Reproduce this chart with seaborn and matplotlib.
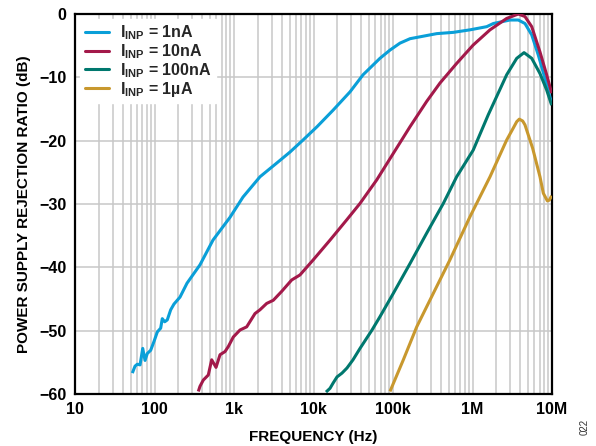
import numpy as np
import pandas as pd
import matplotlib
matplotlib.use("Agg")
import matplotlib.pyplot as plt
import seaborn as sns

# PSRR versus frequency for four input currents
freq_1nA = [52.6, 56.9, 60.8, 65.8, 71.1, 76.0, 81.2, 89.5, 98.6, 108.5, 119.6, 125.3, 134.3,
            144.8, 159.9, 175.8, 209.3, 256.6, 373.6, 544, 891, 1298, 2123, 3475, 5060, 7380,
            11070, 17590, 28770, 41980, 68500, 91600, 122400, 163700, 218800, 354800, 573000,
            930000, 1.51e6, 1.83e6, 2.96e6, 3.77e6, 4.57e6, 5.56e6, 6.73e6, 8.17e6, 9.9e6]
psrr_1nA = [-56.7, -55.6, -55.3, -55.4, -52.8, -54.7, -53.6, -53.1, -51.7, -50.2, -49.6, -48.1,
            -48.6, -48.3, -46.7, -45.8, -44.7, -42.5, -39.6, -35.7, -32.1, -28.9, -25.7, -23.5,
            -21.8, -19.9, -17.8, -15.2, -12.3, -9.6, -7.0, -5.7, -4.6, -3.9, -3.6, -3.1, -2.9,
            -2.5, -2.0, -1.5, -0.95, -0.95, -1.5, -3.3, -6.5, -10.2, -14.1]

freq_10nA = [355.6, 373, 411, 475, 524, 594, 667, 771, 849, 980, 1189, 1444, 1837, 2123, 2577,
             3121, 3978, 5313, 6761, 9955, 16140, 26180, 38500, 62370, 101000, 163600, 265300,
             390000, 632000, 1.02e6, 1.66e6, 2.69e6, 3.77e6, 4.57e6, 5.56e6, 7.06e6, 8.57e6,
             9.9e6]
psrr_10nA = [-59.6, -58.8, -57.8, -57.0, -54.6, -55.8, -53.8, -53.3, -52.5, -51.0, -49.9, -49.4,
             -47.3, -46.7, -45.7, -45.2, -43.8, -42.0, -41.2, -38.8, -35.7, -32.5, -29.9, -26.2,
             -22.0, -17.8, -13.8, -10.9, -7.8, -4.9, -2.5, -0.7, 0.0, -0.4, -2.0, -6.0, -9.6,
             -12.5]

freq_100nA = [14360, 16140, 17590, 19770, 22830, 26360, 31400, 38470, 54430, 68500, 101000,
              163700, 265300, 430000, 632000, 1.02e6, 1.58e6, 2.69e6, 3.6e6, 4.45e6, 5.56e6,
              7.06e6, 8.57e6, 9.9e6]
psrr_100nA = [-59.7, -59.1, -58.3, -57.3, -56.7, -55.9, -54.6, -52.8, -49.9, -47.8, -44.1, -39.4,
              -34.6, -29.9, -25.7, -21.5, -15.9, -9.6, -7.0, -6.1, -7.0, -9.4, -12.0, -14.4]

freq_1uA = [91600, 134900, 198700, 321600, 521000, 930000, 1.66e6, 2.69e6, 3.26e6, 3.6e6,
            3.88e6, 4.28e6, 4.57e6, 5.71e6, 7.06e6, 7.78e6, 8.73e6, 9.25e6, 9.9e6]
psrr_1uA = [-59.6, -54.6, -49.4, -44.1, -38.8, -32.0, -25.7, -19.9, -18.0, -17.0, -16.6, -16.9,
            -17.5, -21.2, -25.7, -28.3, -29.5, -29.4, -28.7]

series_names = ["1nA", "10nA", "100nA", "1µA"]
series_colors = ["#0a9fd8", "#a3194a", "#00786e", "#c8982e"]

xtick_vals = [10, 100, 1e3, 1e4, 1e5, 1e6, 1e7]
xtick_text = ["10", "100", "1k", "10k", "100k", "1M", "10M"]
ytick_vals = [0, -10, -20, -30, -40, -50, -60]

frames = []
for name, f, p in zip(series_names,
                      [freq_1nA, freq_10nA, freq_100nA, freq_1uA],
                      [psrr_1nA, psrr_10nA, psrr_100nA, psrr_1uA]):
    frames.append(pd.DataFrame({"freq": f, "psrr": p, "current": name}))
df = pd.concat(frames, ignore_index=True)

sns.set_theme(style="white")
plt.rcParams["font.family"] = ["Liberation Sans", "DejaVu Sans"]
plt.rcParams["font.weight"] = "bold"
plt.rcParams["mathtext.fontset"] = "custom"
plt.rcParams["mathtext.rm"] = "Liberation Sans:bold"
plt.rcParams["mathtext.bf"] = "Liberation Sans:bold"
plt.rcParams["mathtext.it"] = "Liberation Sans:bold"

fig = plt.figure(figsize=(5.96, 4.46), dpi=100)
ax = fig.add_axes([75 / 596, 1 - 394 / 446, 477 / 596, 380 / 446])

palette = dict(zip(series_names, series_colors))
sns.lineplot(data=df, x="freq", y="psrr", hue="current", hue_order=series_names,
             palette=palette, estimator=None, sort=False, linewidth=2.2, ax=ax,
             legend=False, zorder=3)
for ln in ax.get_lines():
    ln.set_solid_joinstyle("round")
    ln.set_solid_capstyle("butt")

ax.set_xscale("log")
ax.set_xlim(10, 1e7)
ax.set_ylim(-60, 0)

# grid: every minor decade step plus 10 dB rows
ax.xaxis.set_minor_locator(matplotlib.ticker.LogLocator(base=10, subs=np.arange(2, 10)))
ax.set_xticks(xtick_vals)
ax.set_xticklabels(xtick_text)
ax.set_yticks(ytick_vals)
ax.set_yticklabels([("\u2212%d" % -v) if v < 0 else "0" for v in ytick_vals])
ax.grid(True, which="both", axis="x", color="#c8c8c8", linewidth=1.1, zorder=0)
ax.grid(True, which="major", axis="y", color="#c8c8c8", linewidth=1.1, zorder=0)
ax.set_axisbelow(True)
ax.tick_params(axis="both", which="both", length=0, labelsize=11.5, pad=6)
for lab in ax.get_xticklabels() + ax.get_yticklabels():
    lab.set_fontweight("bold")
    lab.set_color("black")

for sp in ax.spines.values():
    sp.set_color("black")
    sp.set_linewidth(1.6)

ax.set_xlabel("FREQUENCY (Hz)", fontsize=11, fontweight="bold", labelpad=9, color="black")
ax.set_ylabel("POWER SUPPLY REJECTION RATIO (dB)", fontsize=11, fontweight="bold",
              labelpad=6, color="black")

handles = [matplotlib.lines.Line2D([], [], color=c, linewidth=2.2) for c in series_colors]
labels = [r"$\mathbf{I_{INP}}$ = " + n for n in series_names]
leg = ax.legend(handles, labels, loc="upper left", bbox_to_anchor=(0.0, 1.0),
                frameon=True, fontsize=11.5, handlelength=1.5, handletextpad=0.7,
                labelspacing=0.0, borderaxespad=0.3, borderpad=0.3)
leg.get_frame().set_facecolor("white")
leg.get_frame().set_edgecolor("white")
leg.get_frame().set_alpha(1.0)
leg.get_frame().set_boxstyle("square", pad=0.0)
for t in leg.get_texts():
    t.set_fontweight("bold")

fig.text(585 / 596, 1 - 427 / 446, "022", rotation=90, fontsize=7, fontweight="normal",
         color="#333333", ha="center", va="center")

fig.savefig("out.png", dpi=100)
